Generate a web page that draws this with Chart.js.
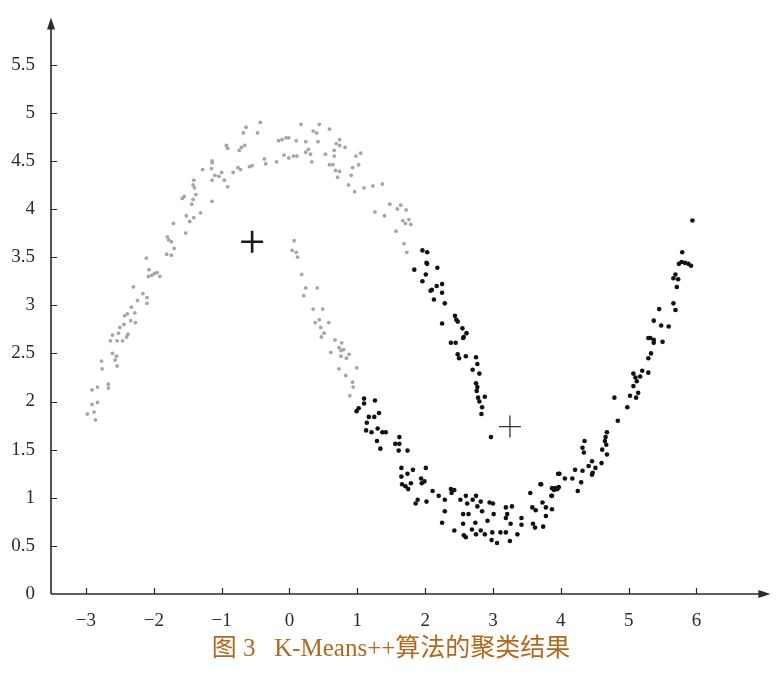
<!DOCTYPE html>
<html>
<head>
<meta charset="utf-8">
<script src="https://cdn.jsdelivr.net/npm/chart.js@4"></script>
<style>
  html, body { margin: 0; padding: 0; background: #fff; }
  #wrap { position: relative; width: 782px; height: 675px; }
  #caption {
    position: absolute; left: 0; top: 627px; width: 782px; text-align: center;
    font-family: "Liberation Serif", "Noto Sans CJK SC", serif; font-size: 25px;
    color: #b0691f; white-space: pre;
  }
</style>
</head>
<body>
<div id="wrap">
  <canvas id="chart" width="782" height="675"></canvas>
  <div id="caption">图 3   K-Means++算法的聚类结果</div>
</div>
<script>
// cluster 1 (grey) and cluster 2 (black)
const clusterGrey = [
  [-2.86,1.81],[-2.98,1.87],[-2.88,1.89],[-2.91,1.97],[-2.83,1.99],[-2.91,2.12],[-2.83,2.15],[-2.67,2.18],
  [-2.67,2.14],[-2.77,2.42],[-2.76,2.34],[-2.54,2.37],[-2.57,2.43],[-2.55,2.47],[-2.61,2.50],[-2.64,2.63],
  [-2.54,2.63],[-2.46,2.63],[-2.61,2.69],[-2.52,2.71],[-2.38,2.70],[-2.40,2.67],[-2.50,2.77],[-2.44,2.80],
  [-2.43,2.89],[-2.39,2.91],[-2.33,2.98],[-2.28,2.92],[-2.34,2.84],[-2.27,2.82],[-2.30,3.19],[-2.24,3.05],
  [-2.16,3.12],[-2.10,3.08],[-2.10,3.02],[-2.11,3.49],[-2.07,3.37],[-2.08,3.30],[-2.03,3.31],[-1.99,3.33],
  [-1.95,3.34],[-1.91,3.30],[-1.81,3.53],[-1.74,3.52],[-1.70,3.59],[-1.78,3.68],[-1.74,3.66],[-1.80,3.71],
  [-1.71,3.85],[-1.53,3.75],[-1.58,4.11],[-1.55,4.13],[-1.52,3.93],[-1.47,3.87],[-1.41,3.91],[-1.31,3.96],
  [-1.44,4.05],[-1.42,4.10],[-1.38,4.15],[-1.40,4.22],[-1.42,4.25],[-1.41,4.30],[-1.14,4.08],[-1.28,4.41],
  [-1.15,4.42],[-1.14,4.48],[-1.14,4.50],[-1.14,4.30],[-1.10,4.35],[-1.04,4.34],[-1.00,4.38],[-0.96,4.30],
  [-0.91,4.23],[-0.83,4.38],[-0.76,4.43],[-0.72,4.41],[-0.93,4.66],[-0.91,4.63],[-0.74,4.61],[-0.71,4.64],
  [-0.64,4.85],[-0.68,4.79],[-0.47,4.79],[-0.43,4.90],[-0.66,4.66],[-0.59,4.44],[-0.55,4.45],[-0.37,4.52],
  [-0.35,4.47],[-0.19,4.49],[-0.16,4.71],[-0.11,4.72],[-0.05,4.74],[-0.01,4.74],[0.10,4.71],[0.17,4.88],
  [0.24,4.70],[0.35,4.81],[0.40,4.79],[0.44,4.88],[0.42,4.70],[0.59,4.83],[-0.08,4.56],[-0.01,4.53],
  [0.06,4.55],[0.11,4.55],[0.24,4.59],[0.28,4.62],[0.31,4.57],[0.33,4.49],[0.53,4.57],[0.59,4.46],
  [0.64,4.46],[0.66,4.55],[0.66,4.61],[0.69,4.68],[0.74,4.72],[0.74,4.66],[0.82,4.64],[0.68,4.40],
  [0.74,4.39],[0.71,4.33],[0.91,4.35],[0.93,4.43],[1.02,4.46],[0.98,4.55],[1.05,4.58],[0.87,4.25],
  [0.96,4.18],[1.10,4.22],[1.23,4.24],[1.37,4.26],[1.26,3.97],[1.40,3.93],[1.48,4.05],[1.59,4.00],
  [1.64,4.04],[1.72,3.99],[1.67,3.88],[1.71,3.85],[1.76,3.89],[1.79,3.84],[1.57,3.77],[1.69,3.64],
  [1.73,3.55],[0.07,3.67],[0.04,3.57],[0.10,3.55],[0.12,3.50],[0.18,3.32],[0.24,3.18],[0.41,3.18],
  [0.21,3.10],[0.35,2.96],[0.49,2.96],[0.44,2.85],[0.38,2.82],[0.58,2.82],[0.46,2.77],[0.51,2.71],
  [0.47,2.67],[0.67,2.64],[0.77,2.61],[0.73,2.56],[0.76,2.53],[0.80,2.54],[0.88,2.49],[0.84,2.45],
  [0.76,2.47],[0.61,2.51],[0.73,2.34],[0.99,2.35],[0.83,2.27],[0.93,2.20],[0.94,2.15],[0.89,2.06]
];

const clusterBlack = [
  [1.96,3.57],[2.03,3.55],[2.02,3.44],[2.03,3.43],[2.18,3.39],[1.84,3.37],[2.01,3.32],[1.96,3.25],
  [2.17,3.20],[2.10,3.16],[2.08,3.15],[2.25,3.22],[2.25,3.13],[2.13,3.06],[2.29,3.02],[2.25,2.81],
  [2.44,2.89],[2.46,2.85],[2.48,2.83],[2.55,2.76],[2.61,2.71],[2.57,2.67],[2.56,2.66],[2.38,2.61],
  [2.45,2.61],[2.48,2.49],[2.50,2.45],[2.60,2.47],[2.75,2.46],[2.77,2.39],[2.70,2.33],[2.80,2.29],
  [2.75,2.19],[2.77,2.15],[2.76,2.11],[2.88,2.05],[2.78,2.04],[2.80,2.00],[2.84,1.94],[2.83,1.87],
  [2.97,1.63],
  [1.10,2.03],[1.10,1.98],[1.26,2.01],[1.02,1.93],[0.99,1.90],[1.32,1.88],[1.17,1.84],[1.25,1.84],
  [1.14,1.78],[1.13,1.70],[1.21,1.68],[1.30,1.72],[1.37,1.68],[1.42,1.68],[1.29,1.59],[1.34,1.51],
  [1.62,1.63],[1.56,1.56],[1.62,1.56],[1.61,1.49],[1.74,1.49],[1.65,1.31],[1.74,1.25],[1.65,1.22],
  [1.82,1.29],[2.01,1.31],[1.66,1.14],[1.71,1.12],[1.75,1.09],[1.79,1.15],[1.94,1.20],[1.95,1.15],
  [1.99,1.17],[1.89,0.98],[1.86,0.94],[2.02,0.96],[2.11,1.07],[2.20,1.02],[2.29,0.98],[2.38,1.09],
  [2.43,1.08],[2.39,1.05],[2.29,0.86],[2.25,0.74],[2.43,0.66],[2.52,0.98],[2.60,1.02],[2.62,0.94],
  [2.70,0.98],[2.75,1.02],[2.77,0.91],[2.82,0.96],[2.56,0.83],[2.64,0.83],[2.56,0.73],[2.74,0.74],
  [2.57,0.61],[2.60,0.59],[2.69,0.67],[2.75,0.62],[2.82,0.66],[2.88,0.62],[2.84,0.86],[2.95,0.95],
  [3.00,0.94],[2.92,0.76],[3.01,0.83],[2.99,0.64],[2.98,0.56],[3.06,0.53],[3.11,0.64],[3.19,0.64],
  [3.25,0.55],[3.36,0.62],[3.19,0.79],[3.21,0.83],[3.28,0.91],[3.19,0.90],[3.26,0.73],[3.42,0.79],
  [3.42,0.72],[3.58,0.90],[3.63,0.87],[3.59,0.73],[3.62,0.69],[3.74,0.70],[3.71,1.14],[3.55,1.05],
  [3.73,0.95],[3.78,0.90],[3.87,0.88],[3.78,0.81],[3.87,1.02],[3.92,1.10],[3.96,1.25],
  [3.70,1.14],[3.87,1.10],[3.90,1.08],[3.95,1.09],[3.97,1.11],[3.86,1.02],[4.25,1.07],[4.30,1.16],
  [4.17,1.20],[4.06,1.20],[3.98,1.25],[4.21,1.29],[4.32,1.28],[4.41,1.33],[4.46,1.38],[4.51,1.31],
  [4.47,1.26],[4.46,1.24],[4.60,1.36],[4.32,1.52],[4.35,1.59],[4.34,1.47],[4.61,1.50],[4.65,1.59],
  [4.66,1.63],[4.68,1.68],[4.68,1.45],[4.67,1.55],[4.84,1.80],[4.98,1.94],[4.79,2.04],[5.02,2.06],
  [5.11,2.04],[5.14,2.09],[5.07,2.16],[5.12,2.21],[5.10,2.25],[5.17,2.26],[5.07,2.29],[5.20,2.32],
  [5.29,2.30],[5.29,2.45],[5.33,2.50],[5.37,2.61],[5.37,2.64],[5.29,2.66],[5.32,2.66],[5.50,2.62],
  [5.37,2.84],[5.48,2.79],[5.59,2.78],[5.45,2.96],[5.66,3.02],[5.69,2.95],[5.71,3.19],[5.73,3.27],
  [5.66,3.28],[5.69,3.32],[5.74,3.43],[5.78,3.45],[5.83,3.44],[5.88,3.43],[5.92,3.41],[5.79,3.55],
  [5.94,3.88]
];

const centroidGrey = [[-0.55, 3.66]];
const centroidBlack = [[3.25, 1.74]];

const xTicks = [-3, -2, -1, 0, 1, 2, 3, 4, 5, 6];
const yTicks = [0, 0.5, 1, 1.5, 2, 2.5, 3, 3.5, 4, 4.5, 5, 5.5];

const toPts = arr => arr.map(p => ({ x: p[0], y: p[1] }));
const tickFont = { family: '"Liberation Serif", serif', size: 19 };

// axes drawn by hand: arrow heads and ticks pointing inward
const axesPlugin = {
  id: 'axes',
  afterDatasetsDraw(chart) {
    const { ctx, chartArea: a, scales: { x, y } } = chart;
    const ox = a.left, oy = a.bottom;
    ctx.save();
    ctx.strokeStyle = '#2b2b2b';
    ctx.fillStyle = '#2b2b2b';
    ctx.lineWidth = 1.6;
    ctx.beginPath();
    ctx.moveTo(ox, oy); ctx.lineTo(a.right - 4, oy);
    ctx.moveTo(ox, oy); ctx.lineTo(ox, a.top + 4);
    ctx.stroke();
    // arrow heads
    ctx.beginPath();
    ctx.moveTo(a.right + 2, oy); ctx.lineTo(a.right - 10, oy - 4); ctx.lineTo(a.right - 10, oy + 4);
    ctx.closePath(); ctx.fill();
    ctx.beginPath();
    ctx.moveTo(ox, a.top - 2); ctx.lineTo(ox - 4, a.top + 10); ctx.lineTo(ox + 4, a.top + 10);
    ctx.closePath(); ctx.fill();
    // inward ticks
    ctx.lineWidth = 1.2;
    ctx.beginPath();
    xTicks.forEach(v => {
      const px = Math.round(x.getPixelForValue(v)) + 0.5;
      ctx.moveTo(px, oy); ctx.lineTo(px, oy - 6);
    });
    yTicks.forEach(v => {
      if (v === 0) return;
      const py = Math.round(y.getPixelForValue(v)) + 0.5;
      ctx.moveTo(ox, py); ctx.lineTo(ox + 6, py);
    });
    ctx.stroke();
    ctx.restore();
  }
};

new Chart(document.getElementById('chart'), {
  type: 'scatter',
  data: {
    datasets: [
      { data: toPts(clusterGrey), backgroundColor: '#a6a6a6', borderWidth: 0, pointRadius: 1.9 },
      { data: toPts(clusterBlack), backgroundColor: '#111111', borderWidth: 0, pointRadius: 2.3 },
      { data: toPts(centroidGrey), pointStyle: 'cross', pointRadius: 11, borderColor: '#1a1a1a', borderWidth: 2.6 },
      { data: toPts(centroidBlack), pointStyle: 'cross', pointRadius: 11, borderColor: '#333333', borderWidth: 1.3 }
    ]
  },
  options: {
    responsive: false,
    animation: false,
    layout: { padding: { left: 0, right: 12, top: 12, bottom: 0 } },
    plugins: { legend: { display: false }, tooltip: { enabled: false } },
    scales: {
      x: {
        type: 'linear', min: -3.515, max: 7.06,
        grid: { display: false }, border: { display: false },
        afterBuildTicks: s => { s.ticks = xTicks.map(v => ({ value: v })); },
        afterFit: s => { s.height = 81; },
        ticks: {
          padding: 8, color: '#2b2b2b', font: tickFont,
          callback: v => (v < 0 ? '\u2212' + Math.abs(v) : String(v))
        }
      },
      y: {
        type: 'linear', min: 0, max: 5.97,
        grid: { display: false }, border: { display: false },
        afterBuildTicks: s => { s.ticks = yTicks.map(v => ({ value: v })); },
        afterFit: s => { s.width = 51; },
        ticks: { padding: 8, color: '#2b2b2b', font: tickFont, callback: v => String(v) }
      }
    }
  },
  plugins: [axesPlugin]
});
</script>
</body>
</html>
